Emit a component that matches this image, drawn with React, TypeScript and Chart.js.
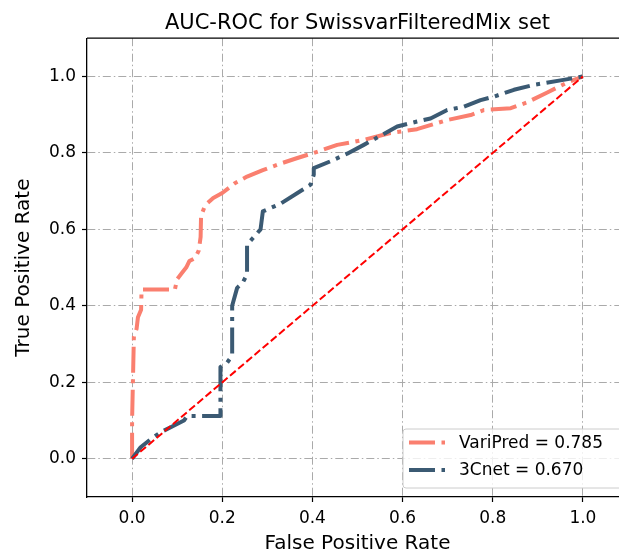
import React, { useEffect, useRef } from 'react';
import { Chart, registerables } from 'chart.js';

Chart.register(...registerables);

const chartTitle = 'AUC-ROC for SwissvarFilteredMix set';
const xAxisTitle = 'False Positive Rate';
const yAxisTitle = 'True Positive Rate';
const seriesLabels = ['VariPred = 0.785', '3Cnet = 0.670'];
const tickValues = [0, 0.2, 0.4, 0.6, 0.8, 1.0];

const variPredFpr = [0, 0, 0.004, 0.01, 0.013, 0.02, 0.021, 0.095, 0.1, 0.11, 0.12, 0.127, 0.14, 0.148, 0.152, 0.153, 0.162, 0.18, 0.2, 0.227, 0.255, 0.29, 0.329, 0.365, 0.403, 0.455, 0.514, 0.573, 0.632, 0.699, 0.751, 0.78, 0.84, 0.876, 0.921, 0.965, 1.0];
const variPredTpr = [0, 0.1, 0.32, 0.34, 0.37, 0.39, 0.443, 0.443, 0.47, 0.485, 0.5, 0.517, 0.525, 0.545, 0.58, 0.635, 0.663, 0.682, 0.695, 0.72, 0.738, 0.755, 0.772, 0.786, 0.8, 0.821, 0.834, 0.852, 0.862, 0.886, 0.899, 0.912, 0.917, 0.932, 0.958, 0.984, 1.0];

const cnetFpr = [0, 0.019, 0.04, 0.063, 0.09, 0.115, 0.122, 0.196, 0.196, 0.21, 0.222, 0.222, 0.233, 0.245, 0.255, 0.255, 0.27, 0.285, 0.29, 0.329, 0.396, 0.403, 0.403, 0.44, 0.477, 0.514, 0.551, 0.588, 0.632, 0.662, 0.699, 0.736, 0.773, 0.802, 0.847, 0.891, 0.957, 1.0];
const cnetTpr = [0, 0.03, 0.05, 0.069, 0.085, 0.1, 0.112, 0.112, 0.24, 0.25, 0.27, 0.4, 0.447, 0.46, 0.482, 0.56, 0.58, 0.6, 0.647, 0.667, 0.717, 0.743, 0.76, 0.778, 0.798, 0.821, 0.845, 0.869, 0.882, 0.89, 0.912, 0.921, 0.938, 0.947, 0.965, 0.978, 0.991, 1.0];

const chanceX = [0, 1];
const chanceY = [0, 1];

const FONT = "'DejaVu Sans', sans-serif";
const SALMON = '#FA7F6F';
const DARK = '#3B5A73';
const DASHDOT = [26, 6.5, 4, 6.5];
const GRID_DASH = [8, 3, 1.5, 3];

const zip = (xs: number[], ys: number[]) => xs.map((x, i) => ({ x, y: ys[i] }));

const framePlugin = {
  id: 'frameAndLegend',
  afterDraw(chart: any) {
    const { ctx, chartArea } = chart;
    ctx.save();
    // top spine (the right spine falls outside the visible page)
    ctx.strokeStyle = '#000';
    ctx.lineWidth = 1.3;
    ctx.setLineDash([]);
    ctx.beginPath();
    ctx.moveTo(chartArea.left, chartArea.top);
    ctx.lineTo(chartArea.right, chartArea.top);
    ctx.stroke();

    const fs = 17;
    const left = chartArea.left + 316;
    const right = left + 220;
    const bottom = chartArea.bottom - 9;
    const top = chartArea.bottom - 68;
    ctx.beginPath();
    if (ctx.roundRect) ctx.roundRect(left, top, right - left, bottom - top, 3);
    else ctx.rect(left, top, right - left, bottom - top);
    ctx.fillStyle = 'rgba(255,255,255,0.8)';
    ctx.fill();
    ctx.strokeStyle = '#cccccc';
    ctx.lineWidth = 1;
    ctx.stroke();

    const items = chart.data.datasets.filter((d: any) => d.inLegend);
    ctx.font = `${fs}px ${FONT}`;
    ctx.textBaseline = 'middle';
    ctx.textAlign = 'left';
    items.forEach((d: any, i: number) => {
      const cy = top + 13.5 + i * 27.5;
      ctx.beginPath();
      ctx.strokeStyle = d.borderColor;
      ctx.lineWidth = d.borderWidth;
      ctx.lineCap = 'butt';
      ctx.setLineDash(d.borderDash || []);
      ctx.moveTo(left + 6, cy);
      ctx.lineTo(left + 42, cy);
      ctx.stroke();
      ctx.setLineDash([]);
      ctx.fillStyle = '#000';
      ctx.fillText(d.label, left + 56, cy + 1);
    });
    ctx.restore();
  },
};

export default function App() {
  const canvasRef = useRef<HTMLCanvasElement | null>(null);

  useEffect(() => {
    if (!canvasRef.current) return;
    const setTicks = (scale: any) => {
      scale.ticks = tickValues.map((v) => ({ value: v }));
    };
    const axisCommon = (title: string) => ({
      type: 'linear' as const,
      min: -0.1,
      max: 1.1,
      afterBuildTicks: setTicks,
      ticks: {
        autoSkip: false,
        maxRotation: 0,
        padding: 6,
        color: '#000',
        font: { family: FONT, size: 17 },
        callback: (v: any) => Number(v).toFixed(1),
      },
      grid: {
        color: '#aaaaaa',
        lineWidth: 1,
        drawTicks: true,
        tickLength: 5,
        tickColor: '#000',
        tickWidth: 1.2,
      },
      border: { display: true, color: '#000', width: 1.3, dash: GRID_DASH },
      title: {
        display: true,
        text: title,
        color: '#000',
        font: { family: FONT, size: 20, lineHeight: 1 },
        padding: { top: 14, bottom: 0 },
      },
    });

    const chart = new Chart(canvasRef.current, {
      type: 'scatter',
      data: {
        datasets: [
          {
            label: seriesLabels[0],
            data: zip(variPredFpr, variPredTpr),
            showLine: true,
            borderColor: SALMON,
            backgroundColor: SALMON,
            borderWidth: 4,
            borderDash: DASHDOT,
            borderCapStyle: 'butt',
            borderJoinStyle: 'round',
            pointRadius: 0,
            tension: 0,
            order: 2,
            inLegend: true,
          } as any,
          {
            label: seriesLabels[1],
            data: zip(cnetFpr, cnetTpr),
            showLine: true,
            borderColor: DARK,
            backgroundColor: DARK,
            borderWidth: 4,
            borderDash: DASHDOT,
            borderCapStyle: 'butt',
            borderJoinStyle: 'round',
            pointRadius: 0,
            tension: 0,
            order: 1,
            inLegend: true,
          } as any,
          {
            label: 'chance',
            data: zip(chanceX, chanceY),
            showLine: true,
            borderColor: '#ff0000',
            backgroundColor: '#ff0000',
            borderWidth: 2,
            borderDash: [7.5, 3.2],
            pointRadius: 0,
            order: 0,
            inLegend: false,
          } as any,
        ],
      },
      options: {
        responsive: false,
        animation: false,
        devicePixelRatio: 1,
        layout: { padding: 0 },
        scales: {
          x: {
            ...axisCommon(xAxisTitle),
            position: 'bottom',
            afterFit: (scale: any) => {
              scale.height = 57;
            },
          },
          y: {
            ...axisCommon(yAxisTitle),
            position: 'left',
            afterFit: (scale: any) => {
              scale.width = 87;
            },
          },
        },
        plugins: {
          legend: { display: false },
          tooltip: { enabled: false },
          title: {
            display: true,
            text: chartTitle,
            color: '#000',
            fullSize: false,
            font: { family: FONT, size: 21, weight: 'normal' },
            padding: { top: 11, bottom: 2 },
          },
        },
      } as any,
      plugins: [framePlugin],
    });
    return () => chart.destroy();
  }, []);

  return (
    <div
      style={{
        position: 'fixed',
        left: 0,
        top: 0,
        width: 619,
        height: 554,
        overflow: 'hidden',
        background: '#fff',
      }}
    >
      <canvas ref={canvasRef} width={628} height={554} style={{ display: 'block' }} />
    </div>
  );
}
